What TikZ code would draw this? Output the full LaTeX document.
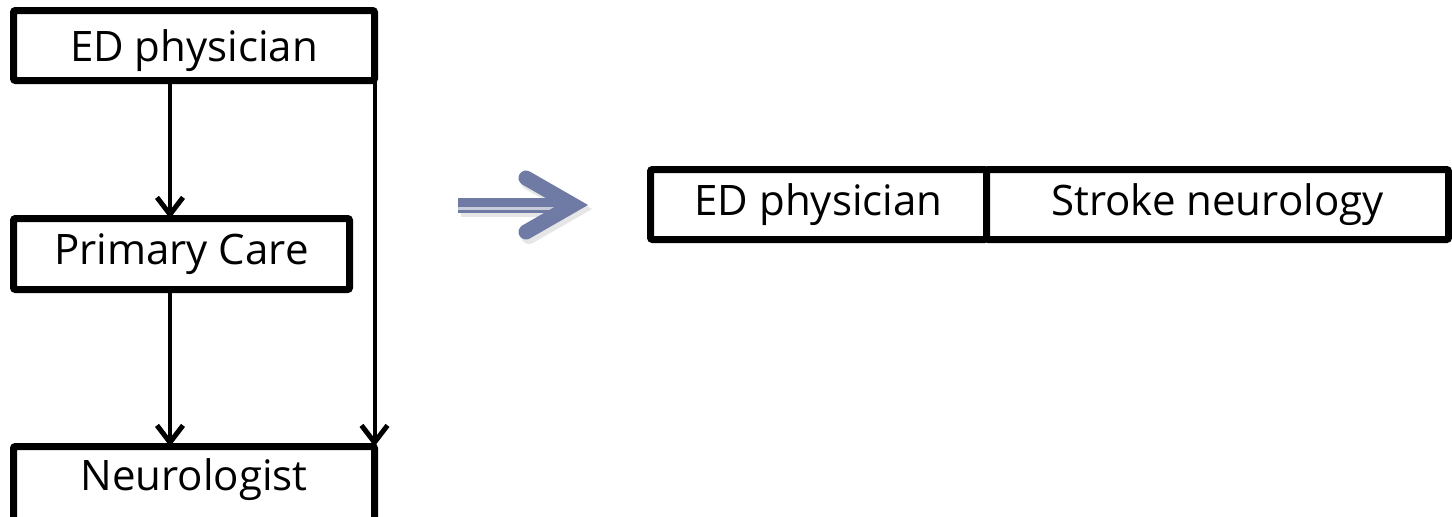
\documentclass[tikz,border=0pt]{standalone}
\usepackage{fontspec}
\setmainfont{Open Sans}
\usetikzlibrary{arrows.meta}
\definecolor{arrowblue}{RGB}{111,123,164}
\definecolor{stripe}{RGB}{200,204,218}
\begin{document}
\begin{tikzpicture}[x=1pt,y=-1pt,
  box/.style={draw=black, fill=white, line width=7pt, rounded corners=2pt, rectangle,
    inner sep=0pt, outer sep=0pt, font=\fontsize{42}{50}\selectfont},
  conn/.style={line width=4pt, -{Straight Barb[length=17pt,width=26pt,line width=5pt]}},
  bigarrow/.style={arrowblue, line width=15pt}
]
\useasboundingbox (0,0) rectangle (1452,517);
\clip (0,0) rectangle (1452,517);

% left column
\node[box, anchor=north, minimum width=361pt, text height=51pt, text depth=19pt] (ed1) at (194,10.5) {ED physician};
\node[box, minimum width=336pt, minimum height=71pt] (pc) at (181.5,254) {Primary Care};
\node[box, anchor=north, minimum width=361pt, text height=44pt, text depth=45pt] (neu) at (194,446.5) {Neurologist};

\coordinate (xl) at (170,0);
\draw[conn] (ed1.south -| xl) -- (pc.north -| xl);
\draw[conn] (pc.south -| xl) -- (neu.north -| xl);
\draw[conn] (ed1.south east) -- (neu.north east);

% big arrow
\begin{scope}[opacity=0.2, gray]
  \draw[line width=16pt] (461,209) -- (562,209);
  \draw[line width=16pt, line cap=round, line join=miter] (529,182) -- (576,209) -- (529,236);
\end{scope}
\draw[bigarrow] (458,205.5) -- (562,205.5);
\draw[stripe, line width=3.5pt] (458,208.5) -- (554,208.5);
\draw[bigarrow, line cap=round, line join=miter] (526,178) -- (573,205) -- (526,232);

% right row
\node[box, minimum width=336pt, minimum height=70pt] (ed2) at (818.5,204.5) {ED physician};
\node[box, minimum width=462pt, minimum height=70pt] (sn) at (1217.5,204.5) {Stroke neurology};
\end{tikzpicture}
\end{document}
